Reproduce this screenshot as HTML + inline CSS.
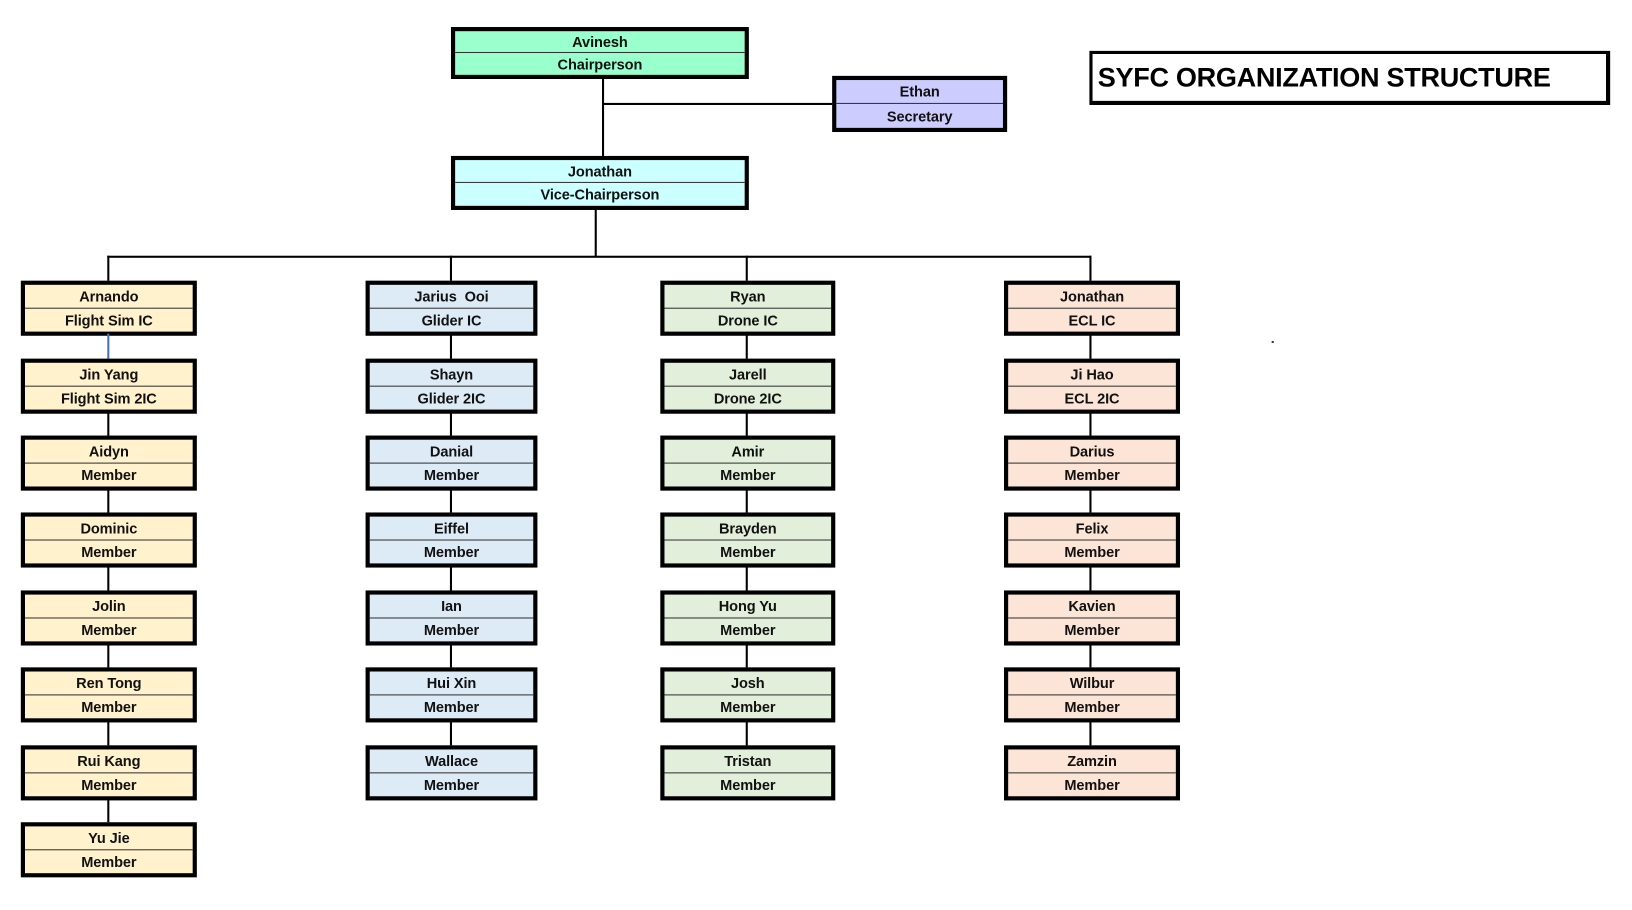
<!DOCTYPE html>
<html><head><meta charset="utf-8"><style>
html,body{margin:0;padding:0;background:#fff;width:1632px;height:909px;overflow:hidden}
#w{position:absolute;left:0;top:0;width:1570px;height:875px;transform:scale(1.0415,1.0395);transform-origin:0 0}
.b{position:absolute;box-sizing:border-box;border:4px solid #000;font-family:"Liberation Sans",sans-serif;font-weight:bold;font-size:14px;color:#111}
.b div{height:50%;display:flex;align-items:center;justify-content:center;box-sizing:border-box;letter-spacing:-0.1px}
.b div:first-child{border-bottom:1.5px solid #333}
.l{position:absolute;background:#000}
</style></head><body><div id="w">
<div class="l" style="left:578px;top:75px;width:2px;height:76px"></div>
<div class="l" style="left:579px;top:99px;width:221px;height:2px"></div>
<div class="l" style="left:571px;top:200px;width:2px;height:47px"></div>
<div class="l" style="left:103px;top:246px;width:945px;height:2px"></div>
<div class="l" style="left:103px;top:246px;width:2px;height:25px"></div>
<div class="l" style="left:432px;top:246px;width:2px;height:25px"></div>
<div class="l" style="left:716px;top:246px;width:2px;height:25px"></div>
<div class="l" style="left:1046px;top:246px;width:2px;height:25px"></div>
<div class="b" style="left:433px;top:26px;width:286px;height:50px;background:#99ffcc"><div>Avinesh</div><div>Chairperson</div></div>
<div class="b" style="left:799px;top:73px;width:168px;height:54px;background:#ccccff"><div>Ethan</div><div>Secretary</div></div>
<div class="b" style="left:433px;top:150px;width:286px;height:52px;background:#ccffff"><div>Jonathan</div><div>Vice-Chairperson</div></div>
<div style="position:absolute;left:1046px;top:49px;width:500px;height:52px;box-sizing:border-box;border:4px solid #000;border-width:3px 4px 4px 3px;font-family:'Liberation Sans',sans-serif;font-weight:bold;font-size:26px;line-height:44px;padding-left:5px;letter-spacing:-0.3px">SYFC ORGANIZATION STRUCTURE</div>
<div style="position:absolute;left:1221px;top:328px;width:2px;height:2px;background:#333"></div>
<div id="cols"></div>
</div>
<script>
var cols=[
{x:20,w:169,c:'#fff2cc',cx:103,items:[['Arnando','Flight Sim IC'],['Jin Yang','Flight Sim 2IC'],['Aidyn','Member'],['Dominic','Member'],['Jolin','Member'],['Ren Tong','Member'],['Rui Kang','Member'],['Yu Jie','Member']]},
{x:351,w:165,c:'#ddebf7',cx:432,items:[['Jarius\u00a0 Ooi','Glider IC'],['Shayn','Glider 2IC'],['Danial','Member'],['Eiffel','Member'],['Ian','Member'],['Hui Xin','Member'],['Wallace','Member']]},
{x:634,w:168,c:'#e2efda',cx:716,items:[['Ryan','Drone IC'],['Jarell','Drone 2IC'],['Amir','Member'],['Brayden','Member'],['Hong Yu','Member'],['Josh','Member'],['Tristan','Member']]},
{x:964,w:169,c:'#fce4d6',cx:1046,items:[['Jonathan','ECL IC'],['Ji Hao','ECL 2IC'],['Darius','Member'],['Felix','Member'],['Kavien','Member'],['Wilbur','Member'],['Zamzin','Member']]}];
var tops=[270,345,419,493,568,642,717,791],h='';
cols.forEach(function(c,ci){c.items.forEach(function(it,i){var t=tops[i];
if(i>0){h+='<div class="l" style="left:'+c.cx+'px;top:'+(t-24)+'px;width:2px;height:25px;'+(ci==0&&i==1?'background:#4472c4':'')+'"></div>';}
h+='<div class="b" style="left:'+c.x+'px;top:'+t+'px;width:'+c.w+'px;height:53px;background:'+c.c+'"><div>'+it[0]+'</div><div>'+it[1]+'</div></div>';});});
document.getElementById('cols').innerHTML=h;
</script>
</body></html>
